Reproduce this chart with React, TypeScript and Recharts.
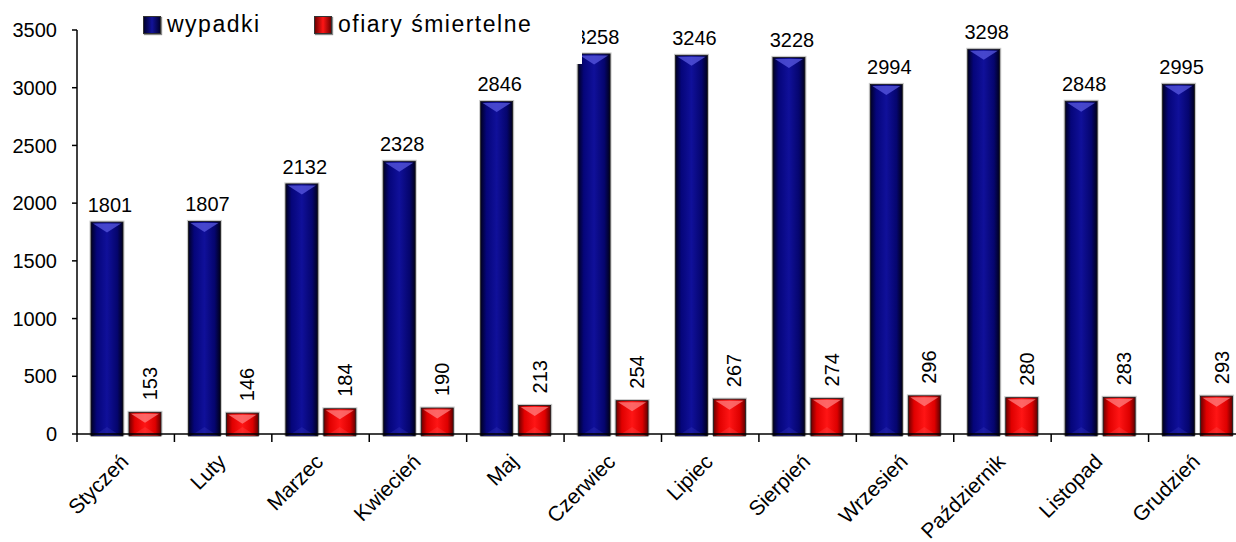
import React from "react";
import { BarChart, Bar, XAxis, YAxis, LabelList } from "recharts";

const months = ["Styczeń", "Luty", "Marzec", "Kwiecień", "Maj", "Czerwiec", "Lipiec", "Sierpień", "Wrzesień", "Październik", "Listopad", "Grudzień"];
const wypadki = [1801, 1807, 2132, 2328, 2846, 3258, 3246, 3228, 2994, 3298, 2848, 2995];
const ofiary = [153, 146, 184, 190, 213, 254, 267, 274, 296, 280, 283, 293];
const yTicks = [0, 500, 1000, 1500, 2000, 2500, 3000, 3500];

const data = months.map((m, i) => ({ month: m, wypadki: wypadki[i], ofiary: ofiary[i] }));

const FONT = "'Liberation Sans', Arial, sans-serif";
const CAP = 4; // bevelled cap drawn above the value, like the original's 3D look

function BevelBar(props: any) {
  const { x, width, grad, light } = props;
  if (!props.height || props.height <= 0) return null;
  const y = props.y - CAP;
  const height = props.height + CAP + 2;
  const tip = Math.min(9, height / 2);
  return (
    <g>
      <rect x={x - 1.5} y={y - 1.5} width={width + 3} height={height + 1.5} fill="#9a9a9a" opacity={0.55} />
      <rect x={x} y={y} width={width} height={height} fill={`url(#${grad})`} stroke="#1a1a1a" strokeWidth={0.8} />
      <polygon points={`${x + 2},${y + 1.5} ${x + width - 2},${y + 1.5} ${x + width / 2},${y + tip + 1.5}`} fill={light} opacity={0.75} />
      <polygon points={`${x + 2},${y + height} ${x + width - 2},${y + height} ${x + width / 2},${y + height - tip}`} fill={light} opacity={0.18} />
    </g>
  );
}

function XTick(props: any) {
  const { x, y, payload } = props;
  const off = payload.offset ?? 48.7;
  const tx = x + 4;
  const ty = y + 29;
  return (
    <g>
      <line x1={x - off} y1={y} x2={x - off} y2={y + 8} stroke="#000" strokeWidth={1.5} />
      {payload.index === months.length - 1 && (
        <line x1={x + off} y1={y} x2={x + off} y2={y + 8} stroke="#000" strokeWidth={1.5} />
      )}
      <text x={tx} y={ty} textAnchor="end" transform={`rotate(-45, ${tx}, ${ty})`} fontSize={21} fontFamily={FONT} fill="#000">
        {payload.value}
      </text>
    </g>
  );
}

function TopLabel(props: any) {
  const { x, y, width, value } = props;
  return (
    <text x={x + width / 2 + 3} y={y - 14} textAnchor="middle" fontSize={20} fontFamily={FONT} fill="#000">
      {value}
    </text>
  );
}

function VertLabel(props: any) {
  const { x, y, width, value } = props;
  const tx = x + width / 2 + 12;
  const ty = y - 16;
  return (
    <text x={tx} y={ty} transform={`rotate(-90, ${tx}, ${ty})`} textAnchor="start" fontSize={20} fontFamily={FONT} fill="#000">
      {value}
    </text>
  );
}

function LegendSwatch({ grad }: { grad: string }) {
  return (
    <span
      style={{
        display: "inline-block",
        width: 16,
        height: 16,
        background: grad,
        border: "1px solid #333",
        boxShadow: "1px 1px 1px #888",
        marginRight: 6,
      }}
    />
  );
}

export default function App() {
  return (
    <div style={{ position: "absolute", left: 0, top: 0, width: 1236, height: 542, overflow: "hidden", background: "#fff" }}>
      <BarChart
        width={1246}
        height={542}
        data={data}
        margin={{ top: 30, right: 0, bottom: 0, left: 0 }}
        barSize={32}
        barGap={6}
      >
        <defs>
          <linearGradient id="gBlue" x1="0" y1="0" x2="1" y2="0">
            <stop offset="0%" stopColor="#000022" />
            <stop offset="18%" stopColor="#05057a" />
            <stop offset="50%" stopColor="#10109a" />
            <stop offset="82%" stopColor="#05056e" />
            <stop offset="100%" stopColor="#00001c" />
          </linearGradient>
          <linearGradient id="gRed" x1="0" y1="0" x2="1" y2="0">
            <stop offset="0%" stopColor="#6a0000" />
            <stop offset="18%" stopColor="#e00000" />
            <stop offset="50%" stopColor="#ff1515" />
            <stop offset="82%" stopColor="#dd0000" />
            <stop offset="100%" stopColor="#600000" />
          </linearGradient>
        </defs>
        <XAxis
          dataKey="month"
          height={108}
          tickLine={false}
          tickSize={0}
          tickMargin={0}
          axisLine={{ stroke: "#000", strokeWidth: 1.5 }}
          interval={0}
          tick={<XTick />}
        />
        <YAxis
          width={77}
          domain={[0, 3500]}
          ticks={yTicks}
          interval={0}
          tickSize={5}
          tickMargin={15}
          axisLine={{ stroke: "#000", strokeWidth: 1.5 }}
          tickLine={{ stroke: "#000", strokeWidth: 1.5 }}
          tick={{ fontSize: 20, fontFamily: FONT, fill: "#000" }}
        />
        <Bar dataKey="wypadki" isAnimationActive={false} shape={<BevelBar grad="gBlue" light="#5a5ae0" />}>
          <LabelList dataKey="wypadki" content={<TopLabel />} />
        </Bar>
        <Bar dataKey="ofiary" isAnimationActive={false} shape={<BevelBar grad="gRed" light="#ff8080" />}>
          <LabelList dataKey="ofiary" content={<VertLabel />} />
        </Bar>
      </BarChart>
      <div
        style={{
          position: "absolute",
          left: 130,
          top: 0,
          width: 452,
          height: 64,
          background: "#fff",
          fontFamily: FONT,
          fontSize: 23,
          letterSpacing: 1.5,
          color: "#000",
        }}
      >
        <div style={{ position: "absolute", left: 13, top: 11, display: "flex", alignItems: "center", whiteSpace: "nowrap" }}>
          <LegendSwatch grad="linear-gradient(90deg,#000030,#12129a,#000030)" />
          <span>wypadki</span>
        </div>
        <div style={{ position: "absolute", left: 184, top: 11, display: "flex", alignItems: "center", whiteSpace: "nowrap" }}>
          <LegendSwatch grad="linear-gradient(90deg,#700000,#ff1515,#700000)" />
          <span>ofiary śmiertelne</span>
        </div>
      </div>
    </div>
  );
}
